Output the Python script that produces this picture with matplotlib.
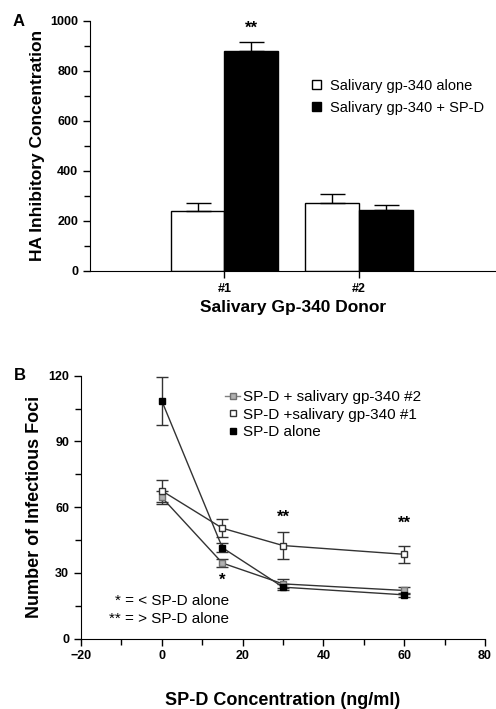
import matplotlib
matplotlib.use('Agg')
import matplotlib.pyplot as plt
from matplotlib.ticker import MultipleLocator
from matplotlib.lines import Line2D

plt.rcParams['font.family'] = ['Liberation Sans', 'DejaVu Sans']
plt.rcParams['font.weight'] = 'bold'
plt.rcParams['axes.labelweight'] = 'bold'

# Panel A data
donors = ['#1', '#2']
alone_vals = [240, 270]
alone_err = [32, 38]
spd_vals = [878, 243]
spd_err = [38, 21]

# Panel B data
conc = [0, 15, 30, 60]
gp2_vals = [64.5, 34.5, 25.0, 22.0]
gp2_err = [3.0, 2.0, 2.0, 1.5]
gp1_vals = [67.5, 50.4, 42.5, 38.5]
gp1_err = [5.0, 4.0, 6.0, 4.0]
spd_alone_vals = [108.5, 41.5, 23.5, 20.0]
spd_alone_err = [11.0, 2.0, 1.5, 1.0]

fig = plt.figure(figsize=(4.96, 7.09), dpi=100)

# ---------- panel A ----------
axA = fig.add_axes([0.1815, 0.618, 0.8185, 0.3526])
xpos = [1, 2]
w = 0.4
ekw = dict(ecolor='black', elinewidth=1, capsize=9, capthick=1)
axA.bar([p - w / 2 for p in xpos], alone_vals, w, color='white', edgecolor='black',
        linewidth=1, label='Salivary gp-340 alone')
axA.errorbar([p - w / 2 for p in xpos], alone_vals, yerr=[[0, 0], alone_err], fmt='none', **ekw)
axA.bar([p + w / 2 for p in xpos], spd_vals, w, color='black', edgecolor='black',
        linewidth=1, label='Salivary gp-340 + SP-D')
axA.errorbar([p + w / 2 for p in xpos], spd_vals, yerr=[[0, 0], spd_err], fmt='none', **ekw)
axA.text(1 + w / 2, 972, '**', ha='center', va='center', fontsize=12)

axA.set_xlim(0, 3.02)
axA.set_ylim(0, 1000)
axA.set_xticks(xpos)
axA.set_xticklabels(donors)
axA.yaxis.set_major_locator(MultipleLocator(200))
axA.yaxis.set_minor_locator(MultipleLocator(100))
axA.spines['top'].set_visible(False)
axA.spines['right'].set_visible(False)
axA.tick_params(direction='out', labelsize=9, length=5, width=1)
axA.tick_params(which='minor', length=4, width=1)
axA.set_ylabel('HA Inhibitory Concentration', fontsize=12.5, labelpad=4)
axA.set_xlabel('Salivary Gp-340 Donor', fontsize=12.5, labelpad=4)
axA.legend(loc='upper left', bbox_to_anchor=(0.515, 0.82), frameon=False,
           handlelength=0.6, handleheight=0.6, handletextpad=0.6,
           prop={'weight': 'normal', 'size': 10.5}, labelspacing=0.55)
fig.text(0.025, 0.969, 'A', fontsize=12, ha='left', va='center')

# ---------- panel B ----------
axB = fig.add_axes([0.1633, 0.0992, 0.8145, 0.3709])
lkw = dict(color='#333333', linewidth=1, capsize=4, elinewidth=1, capthick=1,
           markersize=5, markeredgewidth=1)
axB.errorbar(conc, gp2_vals, yerr=gp2_err, fmt='-s', markerfacecolor='#b0b0b0',
             markeredgecolor='#707070', ecolor='#333333', **lkw)
axB.errorbar(conc, gp1_vals, yerr=gp1_err, fmt='-s', markerfacecolor='white',
             markeredgecolor='#333333', ecolor='#333333', **lkw)
axB.errorbar(conc, spd_alone_vals, yerr=spd_alone_err, fmt='-s', markerfacecolor='black',
             markeredgecolor='black', ecolor='#333333', **lkw)

axB.text(15, 26.5, '*', ha='center', va='center', fontsize=12)
axB.text(30, 55.5, '**', ha='center', va='center', fontsize=12)
axB.text(60, 52.5, '**', ha='center', va='center', fontsize=12)
axB.text(16.6, 17, '* = < SP-D alone', ha='right', va='center', fontsize=11,
         fontweight='normal')
axB.text(16.6, 9, '** = > SP-D alone', ha='right', va='center', fontsize=11,
         fontweight='normal')

axB.set_xlim(-20, 80)
axB.set_ylim(0, 120)
axB.xaxis.set_major_locator(MultipleLocator(20))
axB.xaxis.set_minor_locator(MultipleLocator(10))
axB.yaxis.set_major_locator(MultipleLocator(30))
axB.yaxis.set_minor_locator(MultipleLocator(15))
axB.spines['top'].set_visible(False)
axB.spines['right'].set_visible(False)
axB.tick_params(direction='out', labelsize=9, length=5, width=1)
axB.tick_params(which='minor', length=4, width=1)
axB.set_ylabel('Number of Infectious Foci', fontsize=13, labelpad=4)
axB.set_xlabel('SP-D Concentration (ng/ml)', fontsize=13, labelpad=21)

handles = [
    Line2D([], [], color='#808080', marker='s', markerfacecolor='#b0b0b0',
           markeredgecolor='#707070', markersize=5, linewidth=1),
    Line2D([], [], color='none', marker='s', markerfacecolor='white',
           markeredgecolor='#333333', markersize=5),
    Line2D([], [], color='none', marker='s', markerfacecolor='black',
           markeredgecolor='black', markersize=5),
]
labels = ['SP-D + salivary gp-340 #2', 'SP-D +salivary gp-340 #1', 'SP-D alone']
axB.legend(handles, labels, loc='upper left', bbox_to_anchor=(0.33, 0.985), frameon=False,
           handlelength=1.0, handletextpad=0.2, labelspacing=0.22,
           prop={'weight': 'normal', 'size': 11}, borderpad=0.2)
fig.text(0.027, 0.4704, 'B', fontsize=12, ha='left', va='center')

fig.savefig('out.png', dpi=100)
